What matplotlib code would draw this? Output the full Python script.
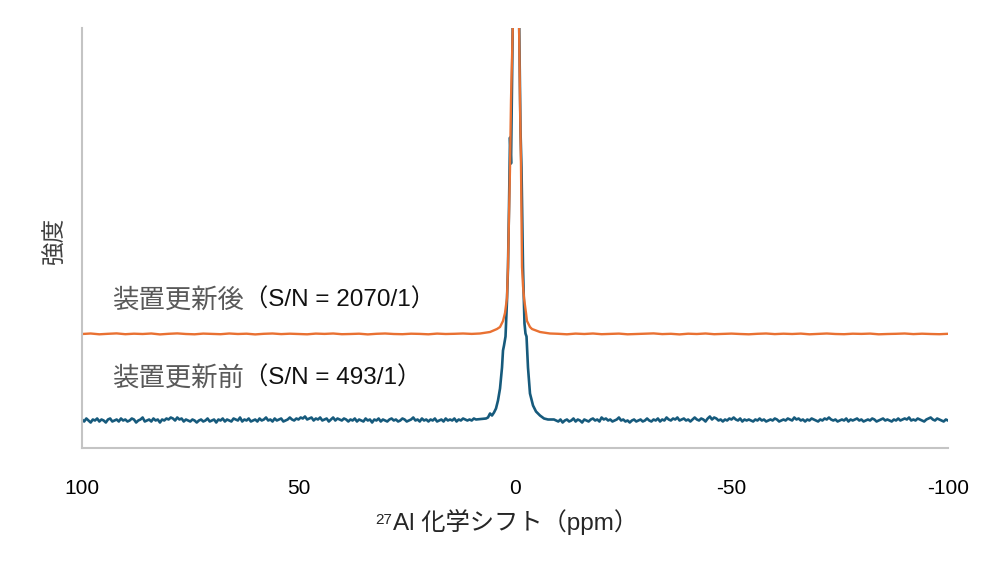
import numpy as np
import matplotlib
matplotlib.use('Agg')
import matplotlib.pyplot as plt


## Spectrum data (arbitrary intensity units) ##

before_level = 27.5
after_level = 114.0

# baseline noise before the upgrade, 0.5 ppm steps
before_noise_left = [  # 100 -> 9 ppm
    1, -1, 2, 0, -2, 1, 0, 2, -1, 1, 0, -2, 1, 2, -1, 0, 1, -1, 2, 0,
    1, -1, 0, 2, 1, -2, 0, 1, 3, -1, 0, 1, -1, 2, 0, 1, -2, 1, 0, 2,
    1, 3, 2, 0, 3, 1, 2, -1, 1, 0, -1, 1, 0, -2, 0, 1, -1, 0, 2, -1,
    0, 1, -2, 1, 0, 2, -1, 1, 0, -1, 2, 1, 0, 3, -1, 1, 0, 2, -1, 0,
    1, -1, 2, 0, 1, 3, 0, 1, -1, 2, 0, 1, 2, -1, 0, 1, 3, 1, 0, 2,
    1, 3, 2, 4, 1, 2, 3, 0, 2, 1, 3, 0, 1, 2, -1, 1, 3, 0, 2, 1,
    0, 2, 1, -1, 1, 0, 2, -1, 1, 0, -1, 2, 0, 1, -2, 1, 0, 2, -1, 1,
    0, -1, 1, 2, 0, 1, -1, 0, 2, 1, -1, 0, 1, 3, 0, 1, -1, 2, 0, 1,
    -1, 1, 0, 2, -1, 0, 1, -1, 2, 0, 1, 0, 2, -1, 1, 0, 2, 1, 0, 1,
    0, 2, 1,
]
before_noise_right = [  # -9 -> -100 ppm
    1, 0, -1, 1, -2, 0, 1, -1, 0, 2, -1, 1, 0, -2, 1, 0, -1, 1, 2, 0,
    1, -1, 3, 1, 2, 0, 1, -1, 0, 1, 3, 0, 1, -1, 0, -2, 0, 1, -1, 0,
    1, -1, 0, 2, 0, -1, 1, 0, 2, -1, 1, 0, 3, 1, 0, 2, 1, 3, 0, 1,
    2, 0, 1, -1, 1, 3, 1, 0, 2, 1, -1, 2, 4, 1, 3, 2, 0, 1, -1, 1,
    0, 2, 1, 3, 1, 0, 2, -1, 1, 0, 1, 0, -1, 1, 0, 2, 0, 1, -1, 0,
    1, 0, 2, 1, -1, 0, 1, 0, 2, 1, 0, 3, 1, 2, 0, 1, -1, 1, 0, 2,
    1, 0, -1, 1, 0, 2, 1, 3, 1, 0, 1, -1, 0, 1, 0, 2, -1, 1, 0, 1,
    2, 0, 1, -1, 0, 1, 0, 2, 1, -1, 0, 1, 2, 0, 1, 0, -1, 1, 0, 2,
    0, 1, 2, 1, 3, 0, 1, 0, 2, 1, 0, -1, 1, 2, 3, 1, 0, 2, 1, 0,
    -1, 1, 0,
]
before_peak_ppm = [6.70, 6.24, 5.77, 5.31, 4.85, 4.39, 3.93, 3.46, 3.00, 2.77, 2.54,
                   2.19, 1.85, 1.62, 1.39, 1.15, 0.92, 0.46, -0.23, -0.92, -1.27, -1.50,
                   -1.85, -2.19, -2.42, -2.66, -3.00, -3.46, -4.16, -4.85, -5.77, -6.70, -7.62]
before_peak_int = [30, 31, 35, 33, 36, 40, 48, 60, 81, 98, 103,
                   112, 148, 181, 240, 311, 285, 440, 1100, 440, 318, 281,
                   181, 125, 115, 112, 81, 55, 43, 37, 33, 30, 29]

# baseline noise after the upgrade, 2 ppm steps
after_noise_left = [  # 100 -> 10 ppm
    0, 0.5, -0.3, 0.2, 0.6, -0.2, 0.3, 0, 0.5, -0.4, 0.2, 0.6, 0, -0.3, 0.4, 0.1,
    -0.2, 0.5, 0, 0.3, -0.4, 0.2, 0.5, -0.1, 0.3, 0, -0.3, 0.4, 0.1, 0.5, -0.2,
    0, 0.3, -0.4, 0.2, 0.5, 0, -0.2, 0.3, 0.1, -0.3, 0.4, 0, 0.2, 0.5, 0.1,
]
after_noise_right = [  # -10 -> -100 ppm
    0.2, -0.3, 0.4, 0, 0.5, -0.2, 0.1, 0.4, -0.3, 0, 0.3, 0.6, -0.1, 0.2, -0.4, 0.3,
    0, 0.5, -0.2, 0.1, 0.4, 0, -0.3, 0.2, 0.5, -0.1, 0.3, 0, 0.4, -0.3, 0.1,
    0.5, 0, -0.2, 0.3, 0.1, 0.4, -0.3, 0, 0.2, 0.5, -0.1, 0.3, 0, -0.2, 0.2,
]
after_peak_ppm = [8.08, 5.77, 4.16, 3.46, 2.77, 2.31, 1.85, 1.62, 1.39, 1.15, 0.92, 0.46,
                  -0.23, -0.92, -1.15, -1.39, -1.62, -1.85, -2.08, -2.54, -2.77, -3.46,
                  -3.93, -5.77, -8.08]
after_peak_int = [114.5, 116, 119, 121, 127, 135, 150, 181, 231, 281, 348, 430,
                  2200, 430, 348, 281, 181, 162, 150, 135, 127, 121,
                  119, 116, 114.5]

tick_values = [100, 50, 0, -50, -100]
label_before = ('装置更新前', '（S/N = 493/1）')
label_after = ('装置更新後', '（S/N = 2070/1）')
x_label = ('27', 'Al 化学シフト（ppm）')
y_label = '強度'


def build_trace(level, left, peak_ppm, peak_int, right, left_end, right_start, peak_ref):
    ppm = np.concatenate([np.linspace(100, left_end, len(left)), peak_ppm,
                          np.linspace(right_start, -100, len(right))])
    inten = np.concatenate([level + np.array(left, float),
                            np.array(peak_int, float) - peak_ref + level,
                            level + np.array(right, float)])
    return ppm, inten


if __name__ == '__main__':

    latin = ['Liberation Sans', 'Noto Sans CJK JP']
    cjk = ['Noto Sans CJK JP', 'DejaVu Sans']

    x_b, y_b = build_trace(before_level, before_noise_left, before_peak_ppm, before_peak_int,
                           before_noise_right, 9, -9, 28.0)
    x_a, y_a = build_trace(after_level, after_noise_left, after_peak_ppm, after_peak_int,
                           after_noise_right, 10, -10, 114.0)

    fig = plt.figure(figsize = (10, 5.79), dpi = 100)
    ax = fig.add_axes([0.082, 1 - 448 / 579, 0.866, 420 / 579])
    ax.plot(x_b, y_b, color = '#165a7c', linewidth = 1.9)
    ax.plot(x_a, y_a, color = '#E97132', linewidth = 1.7)

    ax.set_xlim(100, -100)
    ax.set_ylim(0, 420)
    ax.set_yticks([])
    ax.set_xticks(tick_values)
    ax.set_xticklabels([str(v) for v in tick_values], family = latin, fontsize = 15)
    ax.tick_params(axis = 'x', length = 0, pad = 22)
    for side in ('top', 'right'):
        ax.spines[side].set_visible(False)
    for side in ('left', 'bottom'):
        ax.spines[side].set_color('#c4c4c4')
        ax.spines[side].set_linewidth(1.5)

    # series labels
    for (jp, sn), ypix in ((label_after, 300), (label_before, 378)):
        t = fig.text(112 / 1000, 1 - ypix / 579, jp, family = cjk, fontsize = 19,
                     color = '#595959', ha = 'left', va = 'center')
        ax.annotate(sn, xy = (1, 0.5), xycoords = t, family = latin, fontsize = 17.5,
                    color = '#111111', ha = 'left', va = 'center')

    # axis labels
    xl = fig.text(516 / 1000, 1 - 522 / 579, x_label[1], family = latin, fontsize = 17.5,
                  color = '#262626', ha = 'center', va = 'center')
    ax.annotate(x_label[0], xy = (0, 1), xycoords = xl, family = latin, fontsize = 11,
                color = '#262626', ha = 'right', va = 'top', xytext = (-1, -3),
                textcoords = 'offset points')
    fig.text(55 / 1000, 1 - 240 / 579, y_label, family = cjk, fontsize = 17,
             color = '#404040', rotation = 90, ha = 'center', va = 'center')

    fig.savefig('out.png', dpi = 100)
